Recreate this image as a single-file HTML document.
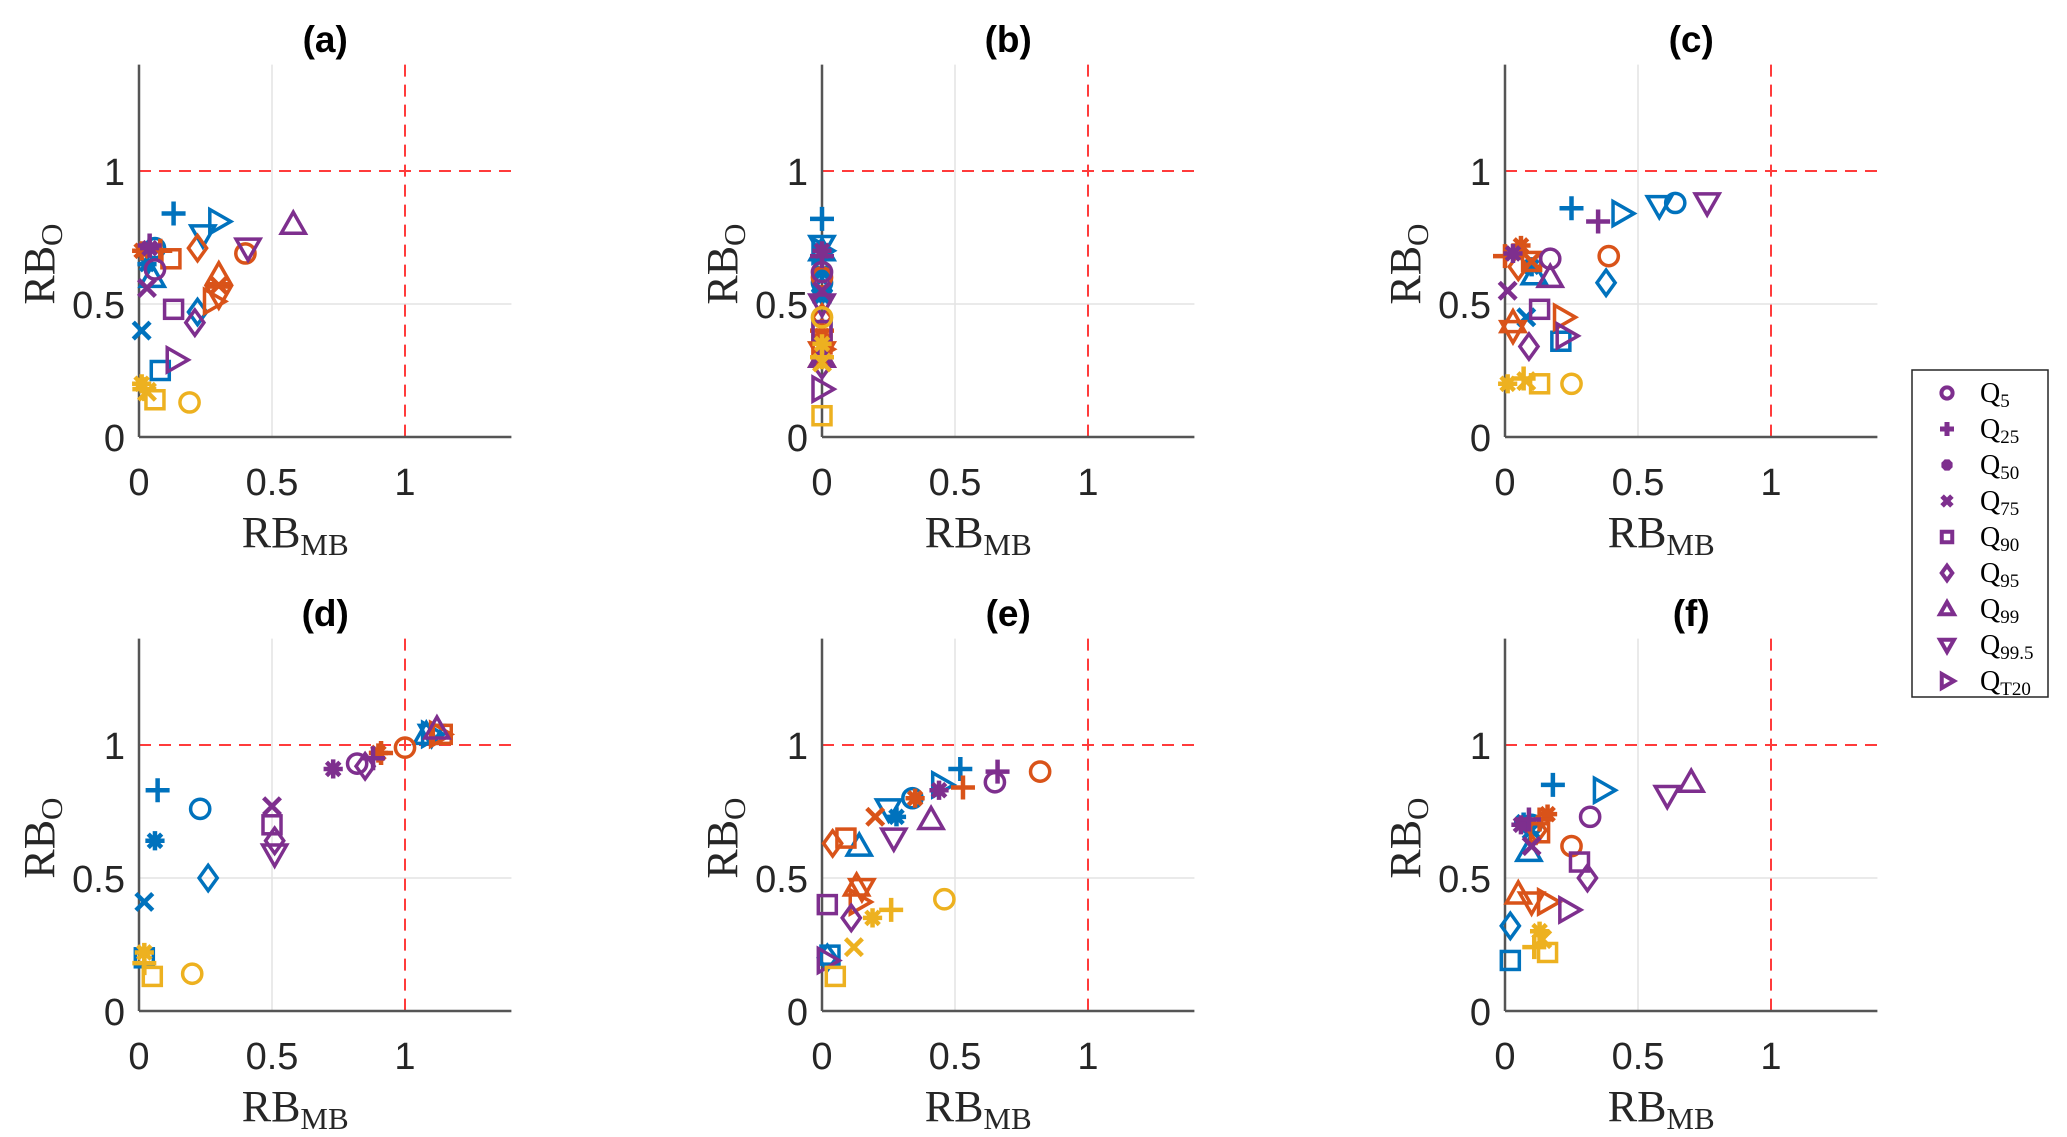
<!DOCTYPE html>
<html><head><meta charset="utf-8"><style>
html,body{margin:0;padding:0;background:#fff;}
svg{display:block;}
.tk{font-family:"Liberation Sans",sans-serif;font-size:38px;fill:#262626;}
.ti{font-family:"Liberation Sans",sans-serif;font-size:37px;font-weight:bold;fill:#000;}
.lb{font-family:"Liberation Serif",serif;font-size:44px;fill:#262626;}
.lg{font-family:"Liberation Serif",serif;font-size:28px;fill:#000;}
</style></head><body>
<svg id="chart" width="2067" height="1137" viewBox="0 0 2067 1137" xmlns="http://www.w3.org/2000/svg"></svg>
<script>
const NS='http://www.w3.org/2000/svg';
const svg=document.getElementById('chart');
const markerTypes=['o','+','*','x','s','d','^','v','>'];
const legendLabels=[['5'],['25'],['50'],['75'],['90'],['95'],['99'],['99.5'],['T20']];
const panelTitles=['(a)','(b)','(c)','(d)','(e)','(f)'];
const xTicks=[0,0.5,1];
const yTicks=[0,0.5,1];
const tickLabels=['0','0.5','1'];
const colors={blue:'#0072BD',orange:'#D95319',yellow:'#EDB120',purple:'#7E2F8E'};
// each point: [marker, RB_MB, RB_O]
const panelA_blue=[['+',.13,.84],['>',.3,.81],['v',.24,.76],['o',.06,.71],['*',.03,.65],['^',.05,.6],['d',.22,.47],['x',.01,.4],['s',.08,.25]];
const panelA_orange=[['*',.01,.7],['+',.08,.7],['s',.12,.67],['d',.22,.71],['o',.4,.69],['^',.3,.61],['x',.3,.57],['v',.3,.53],['>',.28,.51]];
const panelA_purple=[['*',.04,.71],['+',.04,.72],['o',.06,.63],['x',.03,.56],['s',.13,.48],['d',.21,.43],['^',.58,.8],['v',.41,.71],['>',.14,.29]];
const panelA_yellow=[['*',.01,.2],['+',.02,.18],['x',.03,.17],['s',.06,.14],['o',.19,.13]];
const panelB_blue=[['o',0,.58],['+',0,.82],['*',0,.62],['x',0,.53],['s',0,.4],['d',0,.55],['^',0,.7],['v',0,.72],['>',0,.7]];
const panelB_orange=[['o',0,.6],['+',0,.4],['*',0,.38],['x',0,.3],['s',0,.35],['d',0,.45],['^',0,.3],['v',0,.32],['>',0,.33]];
const panelB_purple=[['o',0,.62],['+',0,.68],['*',0,.7],['x',0,.55],['s',0,.4],['d',0,.27],['^',0,.3],['v',0,.5],['>',0,.18]];
const panelB_yellow=[['o',0,.45],['+',0,.3],['*',0,.35],['x',0,.28],['s',0,.08]];
const panelC_blue=[['+',.25,.86],['>',.44,.84],['v',.58,.87],['o',.64,.88],['^',.11,.61],['d',.38,.58],['x',.08,.45],['s',.21,.36],['*',.1,.64]];
const panelC_orange=[['*',.06,.72],['+',0,.68],['o',.39,.68],['d',.05,.64],['s',.1,.66],['x',.1,.66],['>',.22,.45],['^',.03,.43],['v',.03,.4]];
const panelC_purple=[['+',.35,.81],['v',.76,.88],['o',.17,.67],['^',.17,.6],['*',.03,.69],['x',.01,.55],['s',.13,.48],['d',.09,.34],['>',.23,.38]];
const panelC_yellow=[['*',.01,.2],['+',.07,.22],['x',.08,.21],['s',.13,.2],['o',.25,.2]];
const panelD_blue=[['+',.07,.83],['o',.23,.76],['*',.06,.64],['x',.02,.41],['d',.26,.5],['s',.02,.2],['^',1.08,1.04],['v',1.1,1.04],['>',1.1,1.04]];
const panelD_orange=[['o',1.0,.99],['+',.91,.97],['*',.9,.97],['>',1.13,1.04],['s',1.14,1.04]];
const panelD_purple=[['*',.73,.91],['o',.82,.93],['+',.88,.95],['d',.85,.92],['x',.5,.77],['s',.5,.7],['d',.51,.64],['v',.51,.59],['^',1.12,1.06]];
const panelD_yellow=[['*',.02,.22],['+',.02,.18],['s',.05,.13],['o',.2,.14]];
const panelE_blue=[['+',.52,.91],['>',.45,.85],['o',.34,.8],['v',.25,.76],['*',.28,.73],['^',.14,.62],['s',.03,.21],['d',.02,.2]];
const panelE_orange=[['o',.82,.9],['+',.53,.84],['*',.35,.8],['x',.2,.73],['s',.09,.65],['d',.04,.63],['^',.13,.47],['v',.15,.46],['>',.14,.41]];
const panelE_purple=[['+',.66,.9],['o',.65,.86],['*',.44,.83],['^',.41,.72],['v',.27,.65],['s',.02,.4],['d',.11,.35],['>',.02,.19]];
const panelE_yellow=[['+',.26,.38],['*',.19,.35],['x',.12,.24],['o',.46,.42],['s',.05,.13]];
const panelF_blue=[['+',.18,.85],['>',.37,.83],['o',.1,.7],['^',.09,.6],['d',.02,.32],['s',.02,.19],['*',.07,.71],['x',.1,.68]];
const panelF_orange=[['*',.16,.74],['o',.25,.62],['^',.05,.44],['v',.1,.41],['>',.16,.41],['s',.13,.67],['+',.13,.72],['d',.12,.68]];
const panelF_purple=[['o',.32,.73],['v',.61,.81],['^',.7,.86],['*',.06,.7],['+',.09,.72],['s',.28,.56],['d',.31,.5],['>',.24,.38],['x',.1,.62]];
const panelF_yellow=[['*',.13,.3],['x',.14,.27],['+',.11,.24],['s',.16,.22]];
const panelSeries=[
 [panelA_blue,panelA_orange,panelA_purple,panelA_yellow],
 [panelB_blue,panelB_orange,panelB_purple,panelB_yellow],
 [panelC_blue,panelC_orange,panelC_purple,panelC_yellow],
 [panelD_blue,panelD_orange,panelD_purple,panelD_yellow],
 [panelE_blue,panelE_orange,panelE_purple,panelE_yellow],
 [panelF_blue,panelF_orange,panelF_purple,panelF_yellow]];
const seriesColors=['blue','orange','purple','yellow'];

function el(tag,attrs,parent){const e=document.createElementNS(NS,tag);for(const k in attrs)e.setAttribute(k,attrs[k]);(parent||svg).appendChild(e);return e;}

function drawMarker(g,m,cx,cy,col,s,sw){
  let e;
  if(m==='o'){e=el('circle',{cx,cy,r:s*0.8,fill:'none',stroke:col,'stroke-width':sw},g);}
  else if(m==='+'){e=el('path',{d:`M${cx-s} ${cy}H${cx+s}M${cx} ${cy-s}V${cy+s}`,stroke:col,'stroke-width':sw+1,fill:'none'},g);}
  else if(m==='x'){const k=s*0.7;e=el('path',{d:`M${cx-k} ${cy-k}L${cx+k} ${cy+k}M${cx-k} ${cy+k}L${cx+k} ${cy-k}`,stroke:col,'stroke-width':sw+1,fill:'none'},g);}
  else if(m==='*'){const k=s*0.8;let d=`M${cx-k} ${cy}H${cx+k}M${cx} ${cy-k}V${cy+k}`;const q=k*0.7;d+=`M${cx-q} ${cy-q}L${cx+q} ${cy+q}M${cx-q} ${cy+q}L${cx+q} ${cy-q}`;e=el('path',{d,stroke:col,'stroke-width':sw+1,fill:'none'},g);}
  else if(m==='s'){const k=s*0.75;e=el('rect',{x:cx-k,y:cy-k,width:2*k,height:2*k,fill:'none',stroke:col,'stroke-width':sw},g);}
  else if(m==='d'){const k=s*1.05;e=el('path',{d:`M${cx} ${cy-k}L${cx+k*0.72} ${cy}L${cx} ${cy+k}L${cx-k*0.72} ${cy}Z`,fill:'none',stroke:col,'stroke-width':sw},g);}
  else if(m==='^'){const k=s;e=el('path',{d:`M${cx} ${cy-k}L${cx+k} ${cy+k*0.75}L${cx-k} ${cy+k*0.75}Z`,fill:'none',stroke:col,'stroke-width':sw},g);}
  else if(m==='v'){const k=s;e=el('path',{d:`M${cx} ${cy+k}L${cx+k} ${cy-k*0.75}L${cx-k} ${cy-k*0.75}Z`,fill:'none',stroke:col,'stroke-width':sw},g);}
  else {const k=s;e=el('path',{d:`M${cx+k} ${cy}L${cx-k*0.75} ${cy-k}L${cx-k*0.75} ${cy+k}Z`,fill:'none',stroke:col,'stroke-width':sw},g);}
  return e;
}

const colX=[139,822,1505];
const rowY0=[437,1011];
const unit=266,xmax=1.4,ymax=1.4;
panelTitles.forEach((t,pi)=>{
  const x0=colX[pi%3],y0=rowY0[Math.floor(pi/3)];
  const X=v=>x0+v*unit, Y=v=>y0-v*unit;
  const g=el('g',{});
  
  
  el('line',{x1:X(.5),x2:X(.5),y1:Y(ymax),y2:y0,stroke:'#e3e3e3','stroke-width':1.5},g);
  el('line',{x1:x0,x2:X(xmax),y1:Y(.5),y2:Y(.5),stroke:'#e3e3e3','stroke-width':1.5},g);
  const r1=el('line',{x1:X(1),x2:X(1),y1:Y(ymax),y2:y0,stroke:'#ff3b3b','stroke-width':2,'stroke-dasharray':'12,8'},g);
  
  const r2=el('line',{x1:x0,x2:X(xmax),y1:Y(1),y2:Y(1),stroke:'#ff3b3b','stroke-width':2,'stroke-dasharray':'12,8'},g);
  
  el('line',{x1:x0,x2:x0,y1:Y(ymax),y2:y0,stroke:'#555','stroke-width':2.5},g);
  el('line',{x1:x0,x2:X(xmax),y1:y0,y2:y0,stroke:'#555','stroke-width':2.5},g);
  xTicks.forEach((v,i)=>{const tx=el('text',{x:X(v),y:y0+58,'text-anchor':'middle',class:'tk'},g);tx.textContent=tickLabels[i];
    });
  yTicks.forEach((v,i)=>{const tx=el('text',{x:x0-14,y:Y(v)+14,'text-anchor':'end',class:'tk'},g);tx.textContent=tickLabels[i];
    });
  const ti=el('text',{x:(x0+X(xmax))/2,y:y0-385,'text-anchor':'middle',class:'ti'},g);
  ti.textContent=t;
  
  const xl=el('text',{x:(x0+X(xmax))/2-30,y:y0+110,'text-anchor':'middle',class:'lb'},g);
  xl.innerHTML='RB<tspan font-size="31" dy="8">MB</tspan>';
  
  const yl=el('text',{x:0,y:0,'text-anchor':'middle',class:'lb',transform:`translate(${x0-85},${Y(.65)}) rotate(-90)`},g);
  yl.innerHTML='RB<tspan font-size="31" dy="8">O</tspan>';
  
  panelSeries[pi].forEach((ser,si)=>{
    const col=colors[seriesColors[si]];
    ser.forEach(p=>{
      const m=drawMarker(g,p[0],X(p[1]),Y(p[2]),col,12,3.5);
      
      
    });
  });
});
const lg=el('g',{});


el('rect',{x:1912,y:370,width:136,height:327,fill:'#fff',stroke:'#262626','stroke-width':1.5},lg);
markerTypes.forEach((m,i)=>{
  const y=393+i*36;
  const mk=drawMarker(lg,m,1947,y,'#7E2F8E',7,4);
  
  const tx=el('text',{x:1980,y:y+9,class:'lg'},lg);
  tx.innerHTML='Q<tspan font-size="19" dy="5">'+legendLabels[i][0]+'</tspan>';
  
});
</script>
</body></html>
